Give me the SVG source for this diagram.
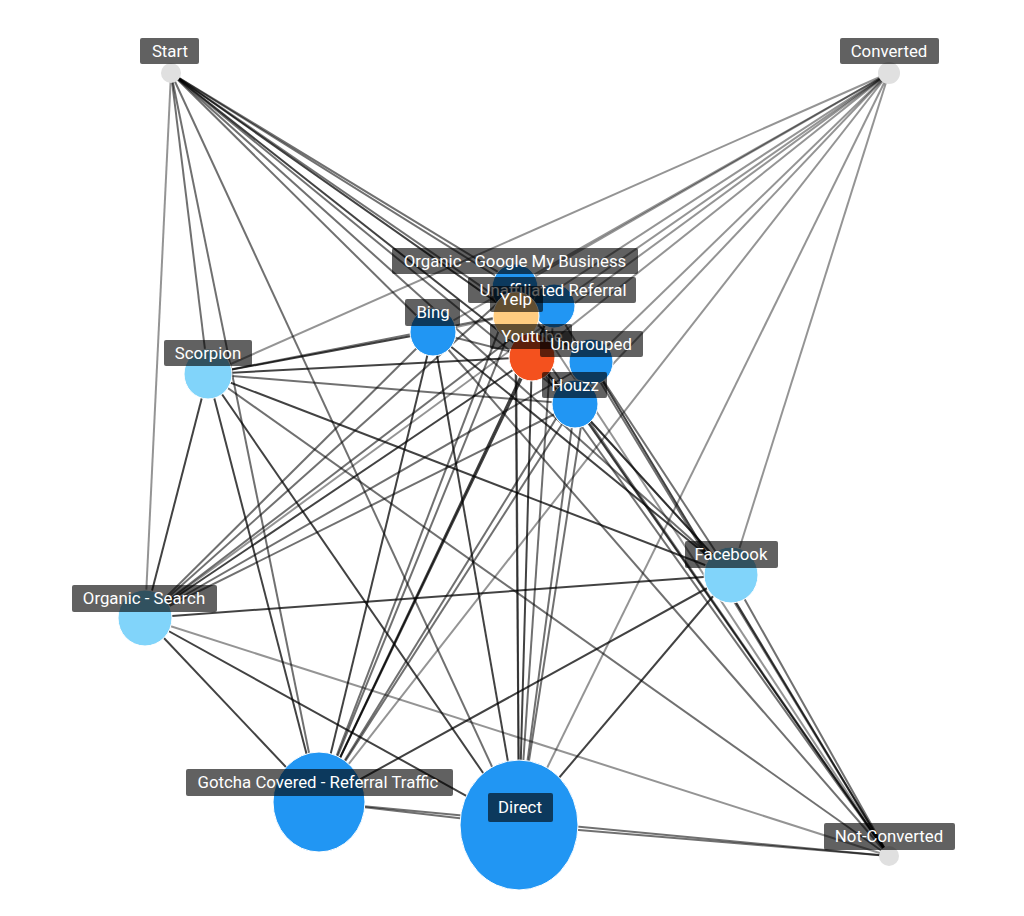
<svg xmlns="http://www.w3.org/2000/svg" width="1024" height="916" viewBox="0 0 1024 916">
<style>
.e{stroke:#000;stroke-width:2;stroke-opacity:.42;fill:none}
.m{stroke-opacity:.56}
.d{stroke-opacity:.74}
.lb{fill:#000;fill-opacity:.62}
.lt{fill:#fff;font-family:Roboto,"Liberation Sans",sans-serif;font-size:16.8px;text-anchor:middle;dominant-baseline:central}
.term{fill:#E0E0E0}
.lblue{fill:#81D4FA;stroke:#fff;stroke-width:1}
.blue{fill:#2196F3;stroke:#fff;stroke-width:1}
</style>
<rect width="1024" height="916" fill="#fff"/>
<g id="connectors">
<line class="e" x1="171" y1="73" x2="145" y2="618"/>
<line class="e m" x1="171" y1="73" x2="208" y2="374"/>
<line class="e m" x1="171" y1="73" x2="319" y2="802"/>
<line class="e m" x1="171" y1="73" x2="519" y2="825"/>
<line class="e m" x1="171" y1="73" x2="433" y2="332"/>
<line class="e m" x1="171" y1="73" x2="515" y2="288"/>
<line class="e d" x1="171" y1="73" x2="516" y2="316"/>
<line class="e m" x1="171" y1="73" x2="554" y2="306"/>
<line class="e d" x1="171" y1="73" x2="532" y2="357"/>
<line class="e m" x1="171" y1="73" x2="591" y2="362"/>
<line class="e m" x1="171" y1="73" x2="575" y2="404"/>
<line class="e m" x1="171" y1="73" x2="731" y2="575"/>
<line class="e" x1="889" y1="73" x2="208" y2="374"/>
<line class="e" x1="889" y1="73" x2="145" y2="618"/>
<line class="e" x1="889" y1="73" x2="433" y2="332"/>
<line class="e" x1="889" y1="73" x2="515" y2="288"/>
<line class="e" x1="889" y1="73" x2="516" y2="316"/>
<line class="e" x1="889" y1="73" x2="554" y2="306"/>
<line class="e" x1="889" y1="73" x2="532" y2="357"/>
<line class="e" x1="889" y1="73" x2="591" y2="362"/>
<line class="e" x1="889" y1="73" x2="575" y2="404"/>
<line class="e" x1="889" y1="73" x2="731" y2="575"/>
<line class="e" x1="889" y1="73" x2="519" y2="825"/>
<line class="e" x1="889" y1="73" x2="319" y2="802"/>
<line class="e m" x1="889" y1="856" x2="731" y2="575"/>
<line class="e d" x1="889" y1="856" x2="575" y2="404"/>
<line class="e d" x1="889" y1="856" x2="591" y2="362"/>
<line class="e m" x1="889" y1="856" x2="532" y2="357"/>
<line class="e m" x1="889" y1="856" x2="554" y2="306"/>
<line class="e m" x1="889" y1="856" x2="516" y2="316"/>
<line class="e" x1="889" y1="856" x2="515" y2="288"/>
<line class="e m" x1="889" y1="856" x2="433" y2="332"/>
<line class="e m" x1="889" y1="856" x2="519" y2="825"/>
<line class="e m" x1="889" y1="856" x2="319" y2="802"/>
<line class="e" x1="889" y1="856" x2="145" y2="618"/>
<line class="e m" x1="889" y1="856" x2="208" y2="374"/>
<line class="e d" x1="208" y1="374" x2="145" y2="618"/>
<line class="e d" x1="208" y1="374" x2="319" y2="802"/>
<line class="e d" x1="208" y1="374" x2="519" y2="825"/>
<line class="e d" x1="208" y1="374" x2="731" y2="575"/>
<line class="e d" x1="208" y1="374" x2="433" y2="332"/>
<line class="e m" x1="208" y1="374" x2="554" y2="306"/>
<line class="e d" x1="208" y1="374" x2="532" y2="357"/>
<line class="e m" x1="208" y1="374" x2="575" y2="404"/>
<line class="e d" x1="145" y1="618" x2="319" y2="802"/>
<line class="e d" x1="145" y1="618" x2="519" y2="825"/>
<line class="e d" x1="145" y1="618" x2="731" y2="575"/>
<line class="e m" x1="145" y1="618" x2="433" y2="332"/>
<line class="e m" x1="145" y1="618" x2="515" y2="288"/>
<line class="e m" x1="145" y1="618" x2="554" y2="306"/>
<line class="e d" x1="145" y1="618" x2="532" y2="357"/>
<line class="e m" x1="145" y1="618" x2="591" y2="362"/>
<line class="e m" x1="145" y1="618" x2="575" y2="404"/>
<line class="e d" x1="731" y1="575" x2="319" y2="802"/>
<line class="e d" x1="731" y1="575" x2="519" y2="825"/>
<line class="e d" x1="731" y1="575" x2="433" y2="332"/>
<line class="e m" x1="731" y1="575" x2="532" y2="357"/>
<line class="e m" x1="731" y1="575" x2="575" y2="404"/>
<line class="e m" x1="731" y1="575" x2="591" y2="362"/>
<line class="e m" x1="319" y1="802" x2="519" y2="825"/>
<line class="e d" x1="319" y1="802" x2="433" y2="332"/>
<line class="e m" x1="319" y1="802" x2="515" y2="288"/>
<line class="e m" x1="319" y1="802" x2="516" y2="316"/>
<line class="e d" x1="319" y1="802" x2="554" y2="306"/>
<line class="e d" x1="319" y1="802" x2="532" y2="357"/>
<line class="e m" x1="319" y1="802" x2="591" y2="362"/>
<line class="e m" x1="319" y1="802" x2="575" y2="404"/>
<line class="e d" x1="519" y1="825" x2="433" y2="332"/>
<line class="e m" x1="519" y1="825" x2="515" y2="288"/>
<line class="e m" x1="519" y1="825" x2="516" y2="316"/>
<line class="e d" x1="519" y1="825" x2="532" y2="357"/>
<line class="e m" x1="519" y1="825" x2="554" y2="306"/>
<line class="e m" x1="519" y1="825" x2="591" y2="362"/>
<line class="e m" x1="519" y1="825" x2="575" y2="404"/>
<line class="e m" x1="433" y1="332" x2="532" y2="357"/>
<line class="e" x1="433" y1="332" x2="554" y2="306"/>
<line class="e m" x1="532" y1="357" x2="575" y2="404"/>
<line class="e" x1="591" y1="362" x2="575" y2="404"/>
</g>
<g id="node-start"><circle class="term" cx="171" cy="73" r="10"/><rect class="lb" x="140" y="38" width="59" height="26" rx="2"/><text class="lt" x="170" y="51">Start</text></g>
<g id="node-converted"><circle class="term" cx="889" cy="73" r="11"/><rect class="lb" x="840" y="38" width="99" height="26" rx="2"/><text class="lt" x="889" y="51">Converted</text></g>
<g id="node-not-converted"><circle class="term" cx="889" cy="856" r="10"/><rect class="lb" x="824" y="823" width="131" height="27" rx="2"/><text class="lt" x="889" y="836">Not-Converted</text></g>
<g id="node-scorpion"><ellipse class="lblue" cx="208" cy="374" rx="24" ry="25"/><rect class="lb" x="164" y="340" width="88" height="26" rx="2"/><text class="lt" x="208" y="353">Scorpion</text></g>
<g id="node-organic-search"><ellipse class="lblue" cx="145" cy="618" rx="27" ry="28"/><rect class="lb" x="72" y="585" width="145" height="27" rx="2"/><text class="lt" x="144" y="598">Organic - Search</text></g>
<g id="node-facebook"><ellipse class="lblue" cx="731" cy="575" rx="27" ry="28"/><rect class="lb" x="685" y="541" width="93" height="27" rx="2"/><text class="lt" x="731" y="554">Facebook</text></g>
<g id="node-gotcha"><ellipse class="blue" cx="319" cy="802" rx="46" ry="50"/><rect class="lb" x="186" y="769" width="267" height="27" rx="2"/><text class="lt" x="318" y="782">Gotcha Covered - Referral Traffic</text></g>
<g id="node-direct"><ellipse class="blue" cx="519" cy="825" rx="59" ry="65"/><rect class="lb" x="488" y="793" width="65" height="29" rx="2"/><text class="lt" x="520" y="807">Direct</text></g>
<g id="node-bing"><ellipse class="blue" cx="433" cy="332" rx="23" ry="24"/><rect class="lb" x="405" y="299" width="55" height="27" rx="2"/><text class="lt" x="433" y="312">Bing</text></g>
<g id="node-gmb"><ellipse class="blue" cx="515" cy="288" rx="23" ry="24"/><rect class="lb" x="392" y="248" width="246" height="26" rx="2"/><text class="lt" x="515" y="261">Organic - Google My Business</text></g>
<g id="node-unaffiliated"><ellipse class="blue" cx="554" cy="306" rx="21" ry="22"/><rect class="lb" x="468" y="277" width="168" height="26" rx="2"/><text class="lt" x="553" y="290">Unaffiliated Referral</text></g>
<g id="node-yelp"><ellipse cx="516" cy="316" rx="23" ry="24" fill="#FFCC80" stroke="#fff" stroke-width="1"/><rect class="lb" x="490" y="286" width="53" height="26" rx="2"/><text class="lt" x="516" y="299">Yelp</text></g>
<g id="node-youtube"><ellipse cx="532" cy="357" rx="23" ry="24" fill="#F4511E" stroke="#fff" stroke-width="1"/><rect class="lb" x="490" y="324" width="82" height="25" rx="2"/><text class="lt" x="532" y="336">Youtube</text></g>
<g id="node-ungrouped"><ellipse class="blue" cx="591" cy="362" rx="22" ry="23"/><rect class="lb" x="540" y="331" width="103" height="26" rx="2"/><text class="lt" x="591" y="344">Ungrouped</text></g>
<g id="node-houzz"><ellipse class="blue" cx="575" cy="404" rx="23" ry="24"/><rect class="lb" x="542" y="372" width="65" height="26" rx="2"/><text class="lt" x="575" y="385">Houzz</text></g>
</svg>
